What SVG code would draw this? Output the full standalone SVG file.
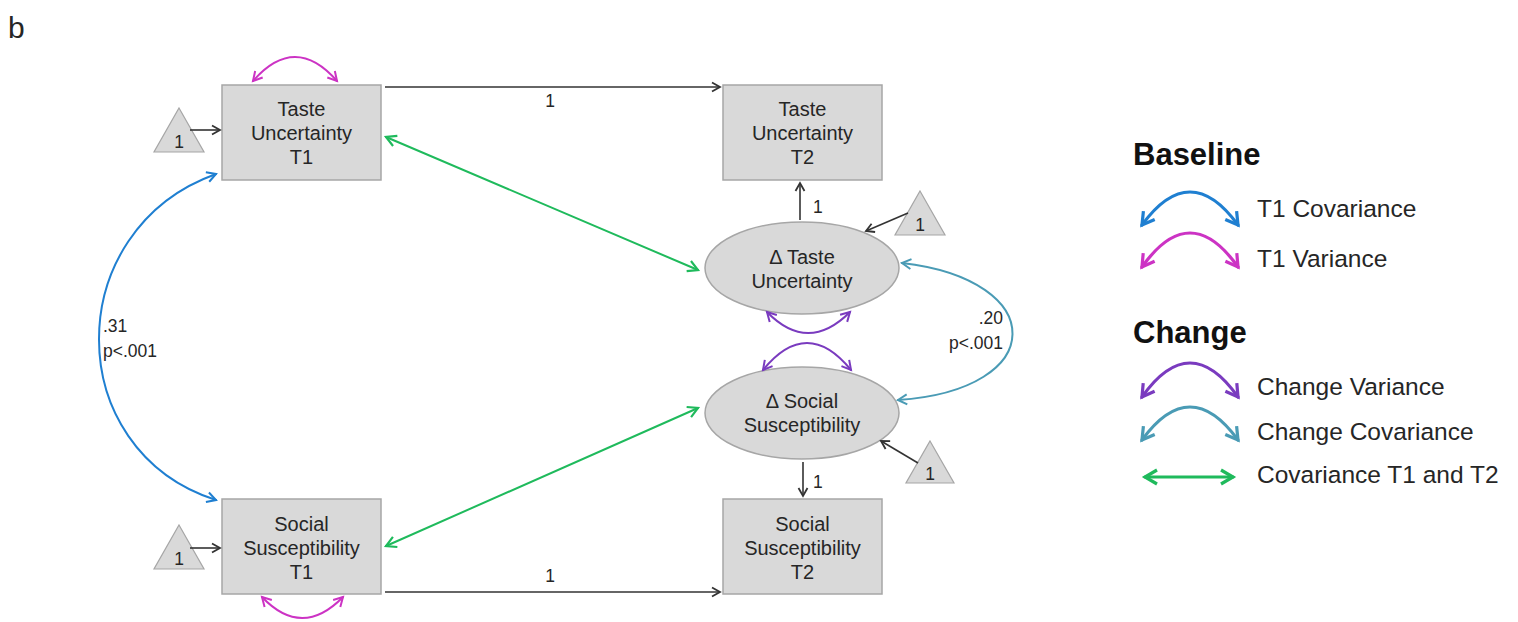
<svg xmlns="http://www.w3.org/2000/svg" width="1518" height="622" viewBox="0 0 1518 622">
<style>
text{font-family:"Liberation Sans",Arial,sans-serif;fill:#262626}
.nt{font-size:20px;text-anchor:middle}
.lb{font-size:17.5px}
.lg{font-size:24.5px}
.hd{font-size:31px;font-weight:bold;fill:#111}
.box{fill:#d9d9d9;stroke:#a6a6a6;stroke-width:1.5}
.tri{fill:#d9d9d9;stroke:#a6a6a6;stroke-width:1.2}
.blk{stroke:#333;stroke-width:1.6;fill:none;marker-end:url(#mk)}
.c{fill:none;stroke-width:2;stroke-linecap:round}
.L{fill:none;stroke-width:3.2;stroke-linecap:round}
</style>
<defs>
<marker id="mk" markerUnits="userSpaceOnUse" markerWidth="20" markerHeight="20" overflow="visible" orient="auto"><path d="M-8,-4.5 L0,0 L-8,4.5" fill="none" stroke="#333" stroke-width="1.8"/></marker>
<marker id="mMag" markerUnits="userSpaceOnUse" markerWidth="20" markerHeight="20" overflow="visible" orient="auto-start-reverse"><path d="M-9,-5 L0,0 L-9,5" fill="none" stroke="#cc33c4" stroke-width="2"/></marker>
<marker id="mBlu" markerUnits="userSpaceOnUse" markerWidth="20" markerHeight="20" overflow="visible" orient="auto-start-reverse"><path d="M-9,-5 L0,0 L-9,5" fill="none" stroke="#1f7fd1" stroke-width="2"/></marker>
<marker id="mPur" markerUnits="userSpaceOnUse" markerWidth="20" markerHeight="20" overflow="visible" orient="auto-start-reverse"><path d="M-9,-5 L0,0 L-9,5" fill="none" stroke="#7a3bbf" stroke-width="2"/></marker>
<marker id="mTea" markerUnits="userSpaceOnUse" markerWidth="20" markerHeight="20" overflow="visible" orient="auto-start-reverse"><path d="M-9,-5 L0,0 L-9,5" fill="none" stroke="#4a9bb5" stroke-width="2"/></marker>
<marker id="mGrn" markerUnits="userSpaceOnUse" markerWidth="20" markerHeight="20" overflow="visible" orient="auto-start-reverse"><path d="M-10,-5.5 L0,0 L-10,5.5" fill="none" stroke="#1fba5c" stroke-width="2.2"/></marker>
<marker id="LBlu" markerUnits="userSpaceOnUse" markerWidth="30" markerHeight="30" overflow="visible" orient="auto-start-reverse"><path d="M-12,-7 L0,0 L-12,7" fill="none" stroke="#1f7fd1" stroke-width="3.2"/></marker>
<marker id="LMag" markerUnits="userSpaceOnUse" markerWidth="30" markerHeight="30" overflow="visible" orient="auto-start-reverse"><path d="M-12,-7 L0,0 L-12,7" fill="none" stroke="#cc33c4" stroke-width="3.2"/></marker>
<marker id="LPur" markerUnits="userSpaceOnUse" markerWidth="30" markerHeight="30" overflow="visible" orient="auto-start-reverse"><path d="M-12,-7 L0,0 L-12,7" fill="none" stroke="#7a3bbf" stroke-width="3.2"/></marker>
<marker id="LTea" markerUnits="userSpaceOnUse" markerWidth="30" markerHeight="30" overflow="visible" orient="auto-start-reverse"><path d="M-12,-7 L0,0 L-12,7" fill="none" stroke="#4a9bb5" stroke-width="3.2"/></marker>
<marker id="LGrn" markerUnits="userSpaceOnUse" markerWidth="30" markerHeight="30" overflow="visible" orient="auto-start-reverse"><path d="M-12,-7 L0,0 L-12,7" fill="none" stroke="#1fba5c" stroke-width="3.2"/></marker>
</defs>
<rect width="1518" height="622" fill="#fff"/>
<text x="8" y="38" style="font-size:30px">b</text>

<g id="tu1"><rect class="box" x="222" y="85" width="159" height="95"/>
<text class="nt" x="301.5" y="116">Taste</text><text class="nt" x="301.5" y="140">Uncertainty</text><text class="nt" x="301.5" y="164">T1</text></g>
<g id="tu2"><rect class="box" x="723" y="85" width="159" height="95"/>
<text class="nt" x="802.5" y="116">Taste</text><text class="nt" x="802.5" y="140">Uncertainty</text><text class="nt" x="802.5" y="164">T2</text></g>
<g id="ss1"><rect class="box" x="222" y="499" width="159" height="95"/>
<text class="nt" x="301.5" y="531">Social</text><text class="nt" x="301.5" y="555">Susceptibility</text><text class="nt" x="301.5" y="579">T1</text></g>
<g id="ss2"><rect class="box" x="723" y="499" width="159" height="95"/>
<text class="nt" x="802.5" y="531">Social</text><text class="nt" x="802.5" y="555">Susceptibility</text><text class="nt" x="802.5" y="579">T2</text></g>
<g id="dtu"><ellipse class="box" cx="802" cy="268" rx="97" ry="46"/>
<text class="nt" x="802" y="264">Δ Taste</text><text class="nt" x="802" y="288">Uncertainty</text></g>
<g id="dss"><ellipse class="box" cx="802" cy="413" rx="97" ry="46"/>
<text class="nt" x="802" y="408">Δ Social</text><text class="nt" x="802" y="432">Susceptibility</text></g>
<g id="k1"><polygon class="tri" points="179,108 204,152 154,152"/><text class="lb" x="179" y="148" text-anchor="middle">1</text></g>
<g id="k2"><polygon class="tri" points="179,525 204,569 154,569"/><text class="lb" x="179" y="565" text-anchor="middle">1</text></g>
<g id="k3"><polygon class="tri" points="920,191 945,235 895,235"/><text class="lb" x="920" y="231" text-anchor="middle">1</text></g>
<g id="k4"><polygon class="tri" points="930,441 954,483 906,483"/><text class="lb" x="930" y="480" text-anchor="middle">1</text></g>

<g id="connectors">
<path class="blk" d="M190,130 L220,130"/>
<path class="blk" d="M190,548 L220,548"/>
<path class="blk" d="M908,213 L866,231"/>
<path class="blk" d="M918,463 L881,441"/>
<path class="blk" d="M385,87 L720,87"/>
<path class="blk" d="M385,592 L720,592"/>
<path class="blk" d="M800,220 L800,183"/>
<path class="blk" d="M803,462 L803,496"/>
<text class="lb" x="550" y="107" text-anchor="middle">1</text>
<text class="lb" x="550" y="582" text-anchor="middle">1</text>
<text class="lb" x="813" y="213">1</text>
<text class="lb" x="813" y="488">1</text>
<path class="c" stroke="#cc33c4" marker-start="url(#mMag)" marker-end="url(#mMag)" d="M253,81 Q295,33 337,81"/>
<path class="c" stroke="#cc33c4" marker-start="url(#mMag)" marker-end="url(#mMag)" d="M262,597 Q302,639 343,597"/>
<path class="c" stroke="#7a3bbf" marker-start="url(#mPur)" marker-end="url(#mPur)" d="M767,312 Q808,354 850,312"/>
<path class="c" stroke="#7a3bbf" marker-start="url(#mPur)" marker-end="url(#mPur)" d="M763,370 Q807,316 851,370"/>
<path class="c" stroke="#1f7fd1" marker-start="url(#mBlu)" marker-end="url(#mBlu)" d="M216,174 C60,230 60,450 216,500"/>
<path class="c" stroke="#4a9bb5" marker-start="url(#mTea)" marker-end="url(#mTea)" d="M902,263 C1050,280 1050,390 898,400"/>
<path class="c" stroke="#1fba5c" stroke-width="2.4" marker-start="url(#mGrn)" marker-end="url(#mGrn)" d="M386,137 L698,270"/>
<path class="c" stroke="#1fba5c" stroke-width="2.4" marker-start="url(#mGrn)" marker-end="url(#mGrn)" d="M386,546 L698,408"/>
<text class="lb" x="103" y="332">.31</text>
<text class="lb" x="103" y="357">p&lt;.001</text>
<text class="lb" x="1003" y="324" text-anchor="end">.20</text>
<text class="lb" x="1003" y="349" text-anchor="end">p&lt;.001</text>
</g>

<g id="legend">
<text class="hd" x="1133" y="165">Baseline</text>
<path class="L" stroke="#1f7fd1" marker-start="url(#LBlu)" marker-end="url(#LBlu)" d="M1142,225 Q1190,159 1238,225"/>
<text class="lg" x="1257" y="217">T1 Covariance</text>
<path class="L" stroke="#cc33c4" marker-start="url(#LMag)" marker-end="url(#LMag)" d="M1142,267 Q1190,199 1238,267"/>
<text class="lg" x="1257" y="267">T1 Variance</text>
<text class="hd" x="1133" y="343">Change</text>
<path class="L" stroke="#7a3bbf" marker-start="url(#LPur)" marker-end="url(#LPur)" d="M1142,397 Q1190,329 1238,397"/>
<text class="lg" x="1257" y="395">Change Variance</text>
<path class="L" stroke="#4a9bb5" marker-start="url(#LTea)" marker-end="url(#LTea)" d="M1142,440 Q1190,374 1238,440"/>
<text class="lg" x="1257" y="440">Change Covariance</text>
<path class="L" stroke="#1fba5c" marker-start="url(#LGrn)" marker-end="url(#LGrn)" d="M1145,477 L1233,477"/>
<text class="lg" x="1257" y="483">Covariance T1 and T2</text>
</g>
</svg>
